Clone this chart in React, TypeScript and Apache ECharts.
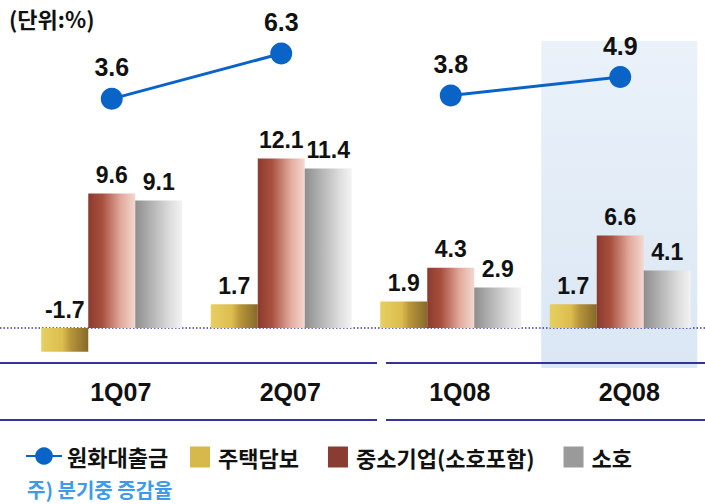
import React, { useEffect, useRef } from "react";
import * as echarts from "echarts";

const categories = ["1Q07", "2Q07", "1Q08", "2Q08"];
const seriesNames = ["원화대출금", "주택담보", "중소기업(소호포함)", "소호"];
// 원화대출금: drawn as two separate segments (2007 and 2008)
const loanGrowth2007 = [3.6, 6.3, null, null];
const loanGrowth2008 = [null, null, 3.8, 4.9];
const mortgage = [-1.7, 1.7, 1.9, 1.7];
const smeLoans = [9.6, 12.1, 4.3, 6.6];
const soho = [9.1, 11.4, 2.9, 4.1];
const titleText = "(단위:%)";
const noteText = "주) 분기중 증감율";

const KR = "'Noto Sans CJK KR', 'Noto Sans', sans-serif";
const NUM = "'Liberation Sans', Arial, sans-serif";

const grad = (stops: [number, string][]) =>
  new echarts.graphic.LinearGradient(0, 0, 1, 0, stops.map(([offset, color]) => ({ offset, color })));

const fmt = (p: any) => Number(p.value).toFixed(1);

const barLabel = {
  show: true,
  position: "top" as const,
  distance: 7,
  fontFamily: NUM,
  fontWeight: "bold" as const,
  fontSize: 23,
  color: "#111",
  formatter: fmt,
};

const lineStyleCommon = {
  type: "line" as const,
  yAxisIndex: 1,
  symbol: "circle",
  symbolSize: 22,
  z: 5,
  lineStyle: { color: "#0a64c8", width: 3 },
  itemStyle: { color: "#0a64c8" },
  label: {
    show: true,
    position: "top" as const,
    distance: 8,
    fontFamily: NUM,
    fontWeight: "bold" as const,
    fontSize: 25,
    color: "#111",
    formatter: fmt,
  },
};

export default function App() {
  const ref = useRef<HTMLDivElement>(null);
  useEffect(() => {
    if (!ref.current) return;
    const chart = echarts.init(ref.current, undefined, { renderer: "svg" });
    chart.setOption({
      animation: false,
      backgroundColor: "#ffffff",
      grid: { left: 27, width: 680, top: 41, bottom: 141 },
      xAxis: {
        type: "category",
        data: categories,
        axisLine: { show: false },
        axisTick: { show: false },
        axisLabel: {
          margin: 16,
          padding: [0, 0, 0, 18],
          fontFamily: NUM,
          fontWeight: "bold",
          fontSize: 25,
          color: "#111",
        },
      },
      yAxis: [
        { type: "value", min: -2.5, max: 20.5, show: false, splitLine: { show: false } },
        { type: "value", min: -12.16, max: 7.05, show: false, splitLine: { show: false } },
      ],
      legend: [
        {
          data: [{ name: seriesNames[0] }],
          left: 20,
          top: 440,
          itemWidth: 36,
          itemHeight: 22,
          textStyle: { fontFamily: KR, fontWeight: "bold", fontSize: 22, color: "#111" },
        },
        {
          data: [
            { name: seriesNames[1], itemStyle: { color: "#d6b84c" } },
            { name: seriesNames[2], itemStyle: { color: "#8a3c33" } },
            { name: seriesNames[3], itemStyle: { color: "#9a9a9a" } },
          ],
          icon: "rect",
          left: 185,
          top: 441,
          itemWidth: 20,
          itemHeight: 21,
          itemGap: 29,
          textStyle: { fontFamily: KR, fontWeight: "bold", fontSize: 22, color: "#111", padding: [0, 0, 0, 3] },
        },
      ],
      series: [
        {
          name: seriesNames[1],
          type: "bar",
          data: mortgage,
          barWidth: 47,
          barGap: "0%",
          itemStyle: {
            color: grad([
              [0, "#e7cf62"],
              [0.45, "#dcbd4e"],
              [0.62, "#b8963a"],
              [1, "#86692a"],
            ]),
          },
          label: barLabel,
        },
        {
          name: seriesNames[2],
          type: "bar",
          data: smeLoans,
          barWidth: 47,
          barGap: "0%",
          itemStyle: {
            color: grad([
              [0, "#8c3a2e"],
              [0.3, "#a9513f"],
              [0.7, "#e2ab9d"],
              [1, "#f4d8d0"],
            ]),
          },
          label: barLabel,
        },
        {
          name: seriesNames[3],
          type: "bar",
          data: soho,
          barWidth: 47,
          barGap: "0%",
          itemStyle: {
            color: grad([
              [0, "#8e8e8e"],
              [0.35, "#b4b4b4"],
              [0.75, "#dedede"],
              [1, "#f3f3f3"],
            ]),
          },
          label: barLabel,
        },
        { ...lineStyleCommon, name: seriesNames[0], data: loanGrowth2007 },
        { ...lineStyleCommon, name: seriesNames[0], data: loanGrowth2008 },
      ],
    });

    const zeroY = chart.convertToPixel({ yAxisIndex: 0 }, 0) as number;
    const lastX = chart.convertToPixel({ xAxisIndex: 0 }, categories[3]) as number;
    const sepColor = "#33339a";
    chart.setOption({
      graphic: [
        {
          type: "rect",
          z: -10,
          shape: { x: lastX - 79, y: 41, width: 156, height: 327 },
          style: {
            fill: new echarts.graphic.LinearGradient(0, 0, 0, 1, [
              { offset: 0, color: "#eaf1f9" },
              { offset: 1, color: "#dae7f4" },
            ]),
          },
        },
        {
          type: "line",
          z: 1,
          shape: { x1: 0, y1: zeroY, x2: 705, y2: zeroY },
          style: { stroke: "#3a3aa8", lineWidth: 1.5, lineDash: [1.5, 2] },
        },
        { type: "line", shape: { x1: 0, y1: 363, x2: 377, y2: 363 }, style: { stroke: sepColor, lineWidth: 2 } },
        { type: "line", shape: { x1: 386, y1: 363, x2: 705, y2: 363 }, style: { stroke: sepColor, lineWidth: 2 } },
        { type: "line", shape: { x1: 0, y1: 420, x2: 377, y2: 420 }, style: { stroke: sepColor, lineWidth: 2 } },
        { type: "line", shape: { x1: 386, y1: 420, x2: 705, y2: 420 }, style: { stroke: sepColor, lineWidth: 2 } },
        {
          type: "text",
          left: 9,
          top: 7,
          style: { text: titleText, fontFamily: KR, fontWeight: "bold", fontSize: 22, fill: "#111" },
        },
        {
          type: "text",
          left: 27,
          top: 479,
          style: { text: noteText, fontFamily: KR, fontWeight: "bold", fontSize: 20, fill: "#3d9be9" },
        },
      ],
    });
    return () => chart.dispose();
  }, []);
  return <div ref={ref} style={{ position: "fixed", left: 0, top: 0, width: 705, height: 504 }} />;
}
